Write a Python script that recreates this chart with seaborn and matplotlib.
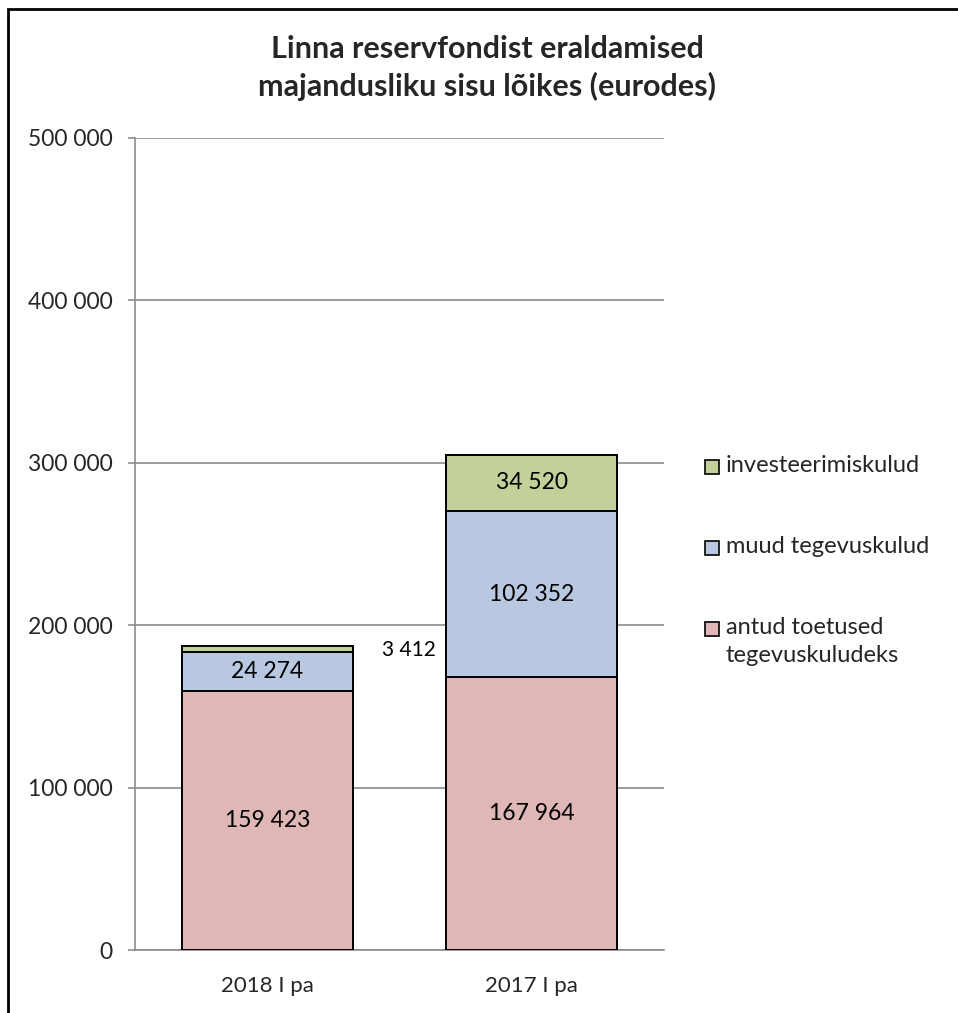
import pandas as pd
import matplotlib
matplotlib.use("Agg")
import matplotlib.pyplot as plt
from matplotlib.patches import Rectangle
from matplotlib.ticker import FuncFormatter
import seaborn as sns

# =========================
# Data
# =========================
periods = ["2018 I pa", "2017 I pa"]
toetused = [159423, 167964]
muud_kulud = [24274, 102352]
investeerimine = [3412, 34520]
series_names = ["antud toetused\ntegevuskuludeks", "muud tegevuskulud", "investeerimiskulud"]
series_colors = ["#E0B7B7", "#B8C8E0", "#C3D09A"]

df = pd.DataFrame({"period": periods, "toetused": toetused,
                   "muud": muud_kulud, "invest": investeerimine})
df["lvl1"] = df["toetused"]
df["lvl2"] = df["lvl1"] + df["muud"]
df["lvl3"] = df["lvl2"] + df["invest"]

W, H = 958, 1013


def fx(x):
    return x / W


def fy(y):
    return 1 - y / H


def fmt(v):
    return f"{v:,.0f}".replace(",", " ")


sns.set_style("white")
plt.rcParams["font.family"] = ["Lato", "DejaVu Sans"]

fig = plt.figure(figsize=(W / 100, H / 100), dpi=100)
ax = fig.add_axes([fx(135), fy(950), fx(664) - fx(135), fy(138) - fy(950)])

# =========================
# Stacked bars (tallest first)
# =========================
for col, color in zip(["lvl3", "lvl2", "lvl1"], series_colors[::-1]):
    sns.barplot(data=df, x="period", y=col, color=color, saturation=1,
                width=0.646, edgecolor="black", linewidth=1.4, ax=ax, zorder=3)

# segment labels
for i in range(len(periods)):
    segs = [(0, toetused[i]), (toetused[i], muud_kulud[i]),
            (toetused[i] + muud_kulud[i], investeerimine[i])]
    for base, val in segs:
        y = base + val / 2
        if val < 10000:
            ax.annotate(fmt(val), xy=(i + 0.323, y), xytext=(21, -1),
                        textcoords="offset points", ha="left", va="center",
                        fontsize=15, color="black", zorder=5)
        else:
            ax.text(i, y, fmt(val), ha="center", va="center",
                    fontsize=16.5, color="black", zorder=5)

# =========================
# Axes styling
# =========================
ax.set_ylim(0, 500000)
ax.set_xlim(-0.5, 1.5)
ax.set_yticks(range(0, 500001, 100000))
ax.yaxis.set_major_formatter(FuncFormatter(lambda v, p: fmt(v)))
ax.yaxis.grid(True, color="#8C8C8C", linewidth=1.2)
ax.set_axisbelow(True)
ax.set_xlabel("")
ax.set_ylabel("")
for side in ["top", "right"]:
    ax.spines[side].set_visible(False)
for side in ["left", "bottom"]:
    ax.spines[side].set_color("#8C8C8C")
    ax.spines[side].set_linewidth(1.2)
ax.tick_params(axis="y", length=5, width=1.2, color="#8C8C8C", pad=11,
               labelsize=16.5, left=True)
ax.tick_params(axis="x", length=0, pad=19, labelsize=16)

# =========================
# Title and legend
# =========================
fig.text(fx(487), fy(68), "Linna reservfondist eraldamised\nmajandusliku sisu lõikes (eurodes)",
         ha="center", va="center", fontsize=22, fontweight="bold", linespacing=1.4)

legend_y = [629, 548, 467]
for name, color, y in zip(series_names, series_colors, legend_y):
    fig.patches.append(Rectangle((fx(705), fy(y + 7)), fx(14), 14 / H,
                                 transform=fig.transFigure, facecolor=color,
                                 edgecolor="black", linewidth=1.2))
    fig.text(fx(726), fy(y - 12), name, ha="left", va="top", fontsize=17,
             linespacing=1.4)

# frame of the screenshot
fig.add_artist(Rectangle((fx(8), -0.1), 1.2, fy(9) + 0.1, transform=fig.transFigure,
                         fill=False, edgecolor="black", linewidth=2))

fig.savefig("out.png", dpi=100)
